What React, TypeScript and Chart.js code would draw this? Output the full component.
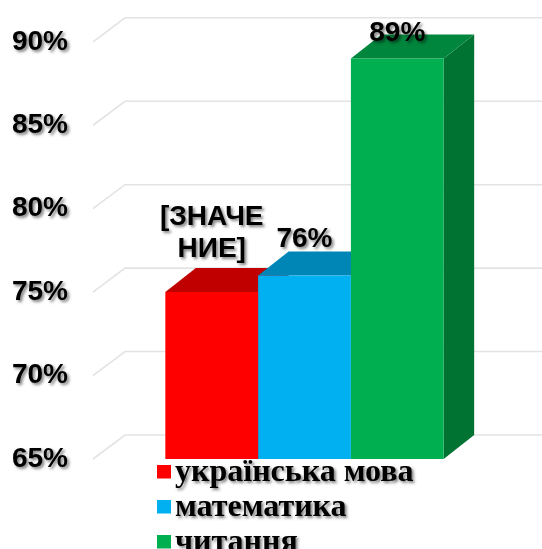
import { useEffect, useRef } from "react";
import { Chart, registerables } from "chart.js";

Chart.register(...registerables);

// ---- data ----
const categories = [""];
const seriesNames = ["українська мова", "математика", "читання"];
const seriesValues = [75, 76, 89];
const dataLabels = [["[ЗНАЧЕ", "НИЕ]"], ["76%"], ["89%"]];
const frontColors = ["#FF0000", "#00B0F0", "#00B050"];
const topColors = ["#C00000", "#0086B6", "#00863D"];
const sideColors = ["#A00000", "#0078A8", "#007232"];
const yMin = 65;
const yMax = 90;
const yStep = 5;

// ---- layout / style constants ----
const W = 542;
const H = 549;
const DX = 30.5;
const DY = -24;
const GRID_DX = 32;
const TICK_FONT = 'bold 28px "Liberation Sans", Arial, sans-serif';
const LEGEND_FONT = 'bold 32px "Liberation Serif", "Times New Roman", serif';

function setShadow(ctx: CanvasRenderingContext2D) {
  ctx.shadowColor = "rgba(0,0,0,0.5)";
  ctx.shadowBlur = 3;
  ctx.shadowOffsetX = 2;
  ctx.shadowOffsetY = 2;
}
function clearShadow(ctx: CanvasRenderingContext2D) {
  ctx.shadowColor = "rgba(0,0,0,0)";
  ctx.shadowBlur = 0;
  ctx.shadowOffsetX = 0;
  ctx.shadowOffsetY = 0;
}

const threeD = {
  id: "threeD",
  beforeDraw(chart: any) {
    // shadow for the y tick labels (drawn next by the scale layer)
    setShadow(chart.ctx);
  },
  beforeDatasetsDraw(chart: any) {
    const { ctx, chartArea } = chart;
    const y = chart.scales.y;
    clearShadow(ctx);
    ctx.save();
    // 3D gridlines (floor edge + back wall)
    ctx.strokeStyle = "#e3e3e3";
    ctx.lineWidth = 1.6;
    y.ticks.forEach((t: any) => {
      const py = y.getPixelForValue(t.value);
      ctx.beginPath();
      ctx.moveTo(chartArea.left, py);
      ctx.lineTo(chartArea.left + GRID_DX, py + DY);
      ctx.lineTo(chart.width, py + DY);
      ctx.stroke();
    });
    // side and top faces (fronts are drawn by Chart.js afterwards)
    chart.data.datasets.forEach((_ds: any, i: number) => {
      const meta = chart.getDatasetMeta(i);
      meta.data.forEach((bar: any) => {
        const { x, y: top, base: rawBase, width } = bar.getProps(["x", "y", "base", "width"], true);
        const base = Math.min(rawBase, chartArea.bottom);
        const l = x - width / 2;
        const r = x + width / 2;
        ctx.fillStyle = sideColors[i];
        ctx.beginPath();
        ctx.moveTo(r, top);
        ctx.lineTo(r + DX, top + DY);
        ctx.lineTo(r + DX, base + DY);
        ctx.lineTo(r, base);
        ctx.closePath();
        ctx.fill();
        ctx.fillStyle = topColors[i];
        ctx.beginPath();
        ctx.moveTo(l, top);
        ctx.lineTo(r, top);
        ctx.lineTo(r + DX, top + DY);
        ctx.lineTo(l + DX, top + DY);
        ctx.closePath();
        ctx.fill();
      });
    });
    ctx.restore();
  },
  afterDatasetsDraw(chart: any) {
    const { ctx } = chart;
    ctx.save();
    setShadow(ctx);
    // data labels
    ctx.font = TICK_FONT;
    ctx.fillStyle = "#000";
    ctx.textAlign = "center";
    ctx.textBaseline = "alphabetic";
    chart.data.datasets.forEach((_ds: any, i: number) => {
      const meta = chart.getDatasetMeta(i);
      meta.data.forEach((bar: any) => {
        const { x, y: top } = bar.getProps(["x", "y"], true);
        const lines = dataLabels[i];
        const backTop = top + DY;
        const gap = lines.length > 1 ? 11 : 4;
        let baseline = backTop - gap;
        const lineH = 32;
        const capH = 20.5;
        const minTop = 20;
        const firstTop = baseline - (lines.length - 1) * lineH - capH;
        if (firstTop < minTop) baseline += minTop - firstTop;
        lines.forEach((s, k) => {
          ctx.fillText(s, x, baseline - (lines.length - 1 - k) * lineH);
        });
      });
    });
    // legend (vertical, bottom)
    ctx.font = LEGEND_FONT;
    ctx.textAlign = "left";
    chart.data.datasets.forEach((ds: any, i: number) => {
      const top = 465 + i * 35;
      clearShadow(ctx);
      ctx.fillStyle = ds.backgroundColor;
      ctx.fillRect(157, top, 14, 13.5);
      setShadow(ctx);
      ctx.fillStyle = "#000";
      ctx.fillText(ds.label, 175, top + 16);
    });
    ctx.restore();
  },
  afterDraw(chart: any) {
    clearShadow(chart.ctx);
  },
};

export default function App() {
  const ref = useRef<HTMLCanvasElement>(null);
  useEffect(() => {
    if (!ref.current) return;
    const chart = new Chart(ref.current, {
      type: "bar",
      data: {
        labels: categories,
        datasets: seriesNames.map((name, i) => ({
          label: name,
          data: [seriesValues[i]],
          backgroundColor: frontColors[i],
          borderWidth: 0,
          categoryPercentage: 0.658,
          barPercentage: 1,
        })),
      },
      options: {
        animation: false,
        responsive: false,
        layout: { padding: { top: 41, bottom: 90, left: 0, right: 26 } },
        plugins: { legend: { display: false }, tooltip: { enabled: false } },
        scales: {
          x: { display: false },
          y: {
            min: yMin,
            max: yMax,
            ticks: {
              stepSize: yStep,
              padding: 25,
              color: "#000",
              font: { family: '"Liberation Sans", Arial, sans-serif', size: 28, weight: "bold" },
              callback: (v: any) => `${v}%`,
            },
            grid: { display: false, drawTicks: false },
            border: { display: false },
            afterFit: (scale: any) => {
              scale.width = 93;
            },
          },
        },
      },
      plugins: [threeD],
    });
    return () => chart.destroy();
  }, []);
  return (
    <div style={{ position: "fixed", left: 0, top: 0, width: W, height: H, background: "#fff" }}>
      <canvas ref={ref} width={W} height={H} style={{ display: "block" }} />
    </div>
  );
}
